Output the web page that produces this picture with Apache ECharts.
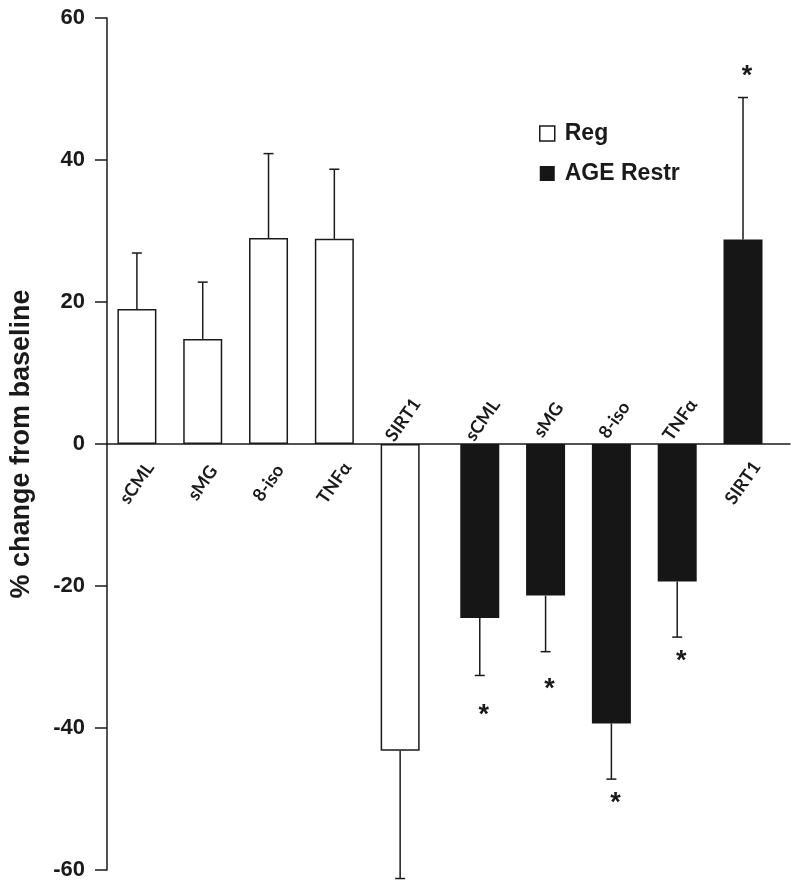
<!DOCTYPE html>
<html><head><meta charset="utf-8">
<script src="https://cdn.jsdelivr.net/npm/echarts@6/dist/echarts.min.js"></script>
<style>html,body{margin:0;padding:0;background:#fff}#c{width:800px;height:890px}</style>
</head><body><div id="c"></div>
<script>
// ---- data ----
const regLabels = ['sCML', 'sMG', '8-iso', 'TNFα', 'SIRT1'];
const ageLabels = ['sCML', 'sMG', '8-iso', 'TNFα', 'SIRT1'];
const regValues = [19.0, 14.8, 29.0, 28.9, -43.2];
const regErrors = [7.9, 8.0, 11.9, 9.8, 18.0];
const ageValues = [-24.5, -21.35, -39.35, -19.35, 28.8];
const ageErrors = [8.1, 7.9, 7.85, 7.85, 20.0];
const ageStars = [-37.2, -33.6, -49.6, -29.7, 52.7];
const seriesNames = ['Reg', 'AGE Restr'];
const yMin = -60, yMax = 60, yInterval = 20;
const yName = '% change from baseline';

// ---- layout constant: extra gap between the two groups (in category units) ----
const GROUP_GAP = 0.21;

// ---- derived ----
const categories = regLabels.concat(ageLabels);
const nReg = regLabels.length;
const regPos = regLabels.map((_, i) => i);
const agePos = ageLabels.map((_, i) => i + nReg + GROUP_GAP);
const allPos = regPos.concat(agePos);
const regData = regValues.map((v, i) => [regPos[i], v]);
const ageData = ageValues.map((v, i) => [agePos[i], v]);
const errData = regValues.map((v, i) => [regPos[i], v, regErrors[i]])
  .concat(ageValues.map((v, i) => [agePos[i], v, ageErrors[i]]));
const allValues = regValues.concat(ageValues);
const labelData = categories.map((c, i) => [allPos[i], allValues[i]]);
const starData = ageStars.map((v, i) => [agePos[i], v]);

const INK = '#1a1a1a';

function renderErr(params, api) {
  const x = api.value(0), v = api.value(1), e = api.value(2);
  const end = v >= 0 ? v + e : v - e;
  const p0 = api.coord([x, v]), p1 = api.coord([x, end]);
  const cap = 5;
  return { type: 'group', children: [
    { type: 'line', shape: { x1: p0[0], y1: p0[1], x2: p1[0], y2: p1[1] }, style: { stroke: INK, lineWidth: 1.5 } },
    { type: 'line', shape: { x1: p1[0] - cap, y1: p1[1], x2: p1[0] + cap, y2: p1[1] }, style: { stroke: INK, lineWidth: 1.5 } }
  ]};
}
function renderLabel(params, api) {
  const i = params.dataIndex;
  const x = api.value(0), v = api.value(1);
  const p = api.coord([x, 0]);
  const dy = v >= 0 ? 39 : -24;
  const dx = v >= 0 ? 0 : 3;
  return { type: 'text', x: p[0] + dx, y: p[1] + dy, rotation: 55 * Math.PI / 180,
    style: { text: categories[i], font: 'bold 18px Lato', fill: INK, align: 'center', verticalAlign: 'middle' } };
}
function renderStar(params, api) {
  const p = api.coord([api.value(0), api.value(1)]);
  return { type: 'text', x: p[0] + 4, y: p[1] + 7,
    style: { text: '*', font: 'bold 27px "Liberation Sans"', fill: INK, align: 'center', verticalAlign: 'middle' } };
}

const chart = echarts.init(document.getElementById('c'));
chart.setOption({
  animation: false,
  backgroundColor: '#fff',
  grid: { left: 105, right: 10, top: 18, bottom: 20, containLabel: false },
  legend: {
    orient: 'vertical', left: 534, top: 117, itemWidth: 15, itemHeight: 15, itemGap: 17,
    selectedMode: false, icon: 'rect',
    textStyle: { fontFamily: 'Liberation Sans', fontWeight: 'bold', fontSize: 23, color: INK, padding: [0, 0, 0, 5] },
    data: [
      { name: seriesNames[0], itemStyle: { color: '#fff', borderColor: INK, borderWidth: 1.5 } },
      { name: seriesNames[1], itemStyle: { color: '#161616' } }
    ]
  },
  xAxis: {
    type: 'value', min: -0.4545, max: 9.924,
    axisLine: { show: true, onZero: true, lineStyle: { color: INK, width: 1.5 } },
    axisTick: { show: false }, axisLabel: { show: false }, splitLine: { show: false }
  },
  yAxis: {
    type: 'value', min: yMin, max: yMax, interval: yInterval,
    name: yName, nameLocation: 'middle', nameRotate: 90, nameGap: 72,
    nameTextStyle: { fontFamily: 'Liberation Sans', fontWeight: 'bold', fontSize: 27, color: INK },
    axisLine: { show: true, onZero: false, lineStyle: { color: INK, width: 1.5 } },
    axisTick: { show: true, length: 12, lineStyle: { color: INK, width: 1.5 } },
    axisLabel: { margin: 22, fontFamily: 'Liberation Sans', fontWeight: 'bold', fontSize: 22, color: INK },
    splitLine: { show: false }
  },
  series: [
    { name: seriesNames[0], type: 'bar', data: regData, barWidth: 39, barGap: '-100%',
      itemStyle: { color: '#fff', borderColor: INK, borderWidth: 1.5 } },
    { name: seriesNames[1], type: 'bar', data: ageData, barWidth: 39, barGap: '-100%',
      itemStyle: { color: '#161616' } },
    { type: 'custom', data: errData, renderItem: renderErr, z: 3, silent: true },
    { type: 'custom', data: labelData, renderItem: renderLabel, z: 4, silent: true },
    { type: 'custom', data: starData, renderItem: renderStar, z: 4, silent: true }
  ]
});
</script>
</body></html>
